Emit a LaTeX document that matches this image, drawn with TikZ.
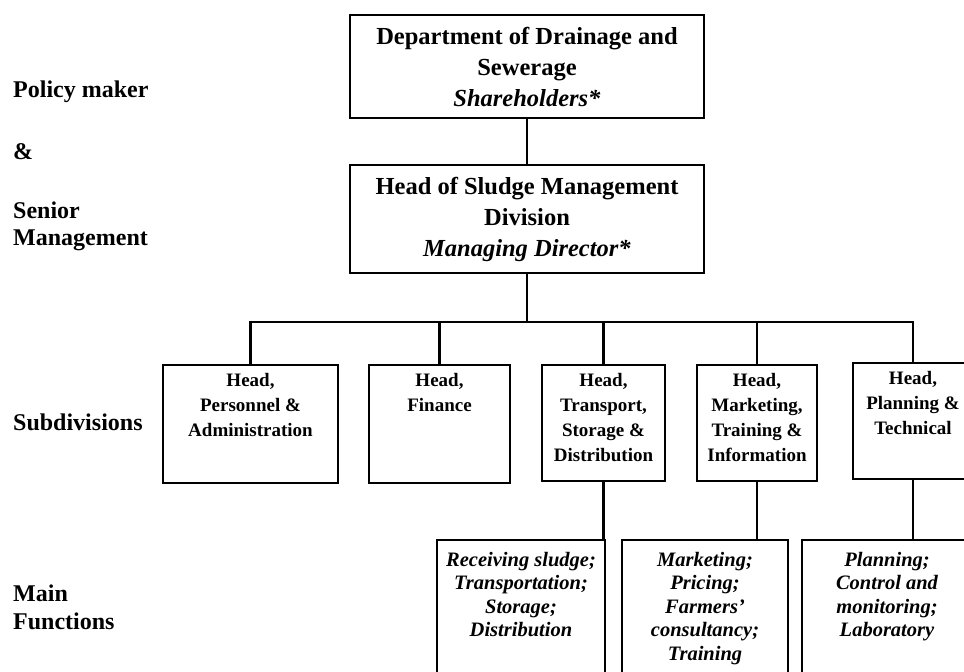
\documentclass[tikz,border=0pt]{standalone}
\usepackage{fontspec}
\setmainfont{Liberation Serif}
\begin{document}
\begin{tikzpicture}[x=1pt,y=-1pt,
  box/.style={draw=black,line width=2.2pt,rectangle,inner sep=0pt},
  link/.style={draw=black,line width=2.4pt},
  toptext/.style={align=center,font=\fontsize{24.5}{31}\selectfont\bfseries},
  subtext/.style={align=center,anchor=north,inner sep=0pt,font=\fontsize{19}{25}\selectfont\bfseries},
  funtext/.style={align=center,anchor=north,inner sep=0pt,font=\fontsize{20.5}{23.5}\selectfont\bfseries\itshape},
  lefttext/.style={align=left,anchor=west,inner sep=0pt,font=\fontsize{24}{27.5}\selectfont\bfseries}]
\clip (0,0) rectangle (964,672);
\fill[white] (0,0) rectangle (964,672);
% top level boxes
\node[box,minimum width=354pt,minimum height=103pt] (top) at (527,66.5) {};
\node[toptext] (toptx) at (top.center) {Department of Drainage and\\Sewerage\\\textit{Shareholders*}};
\node[box,minimum width=354pt,minimum height=108pt] (mid) at (527,219) {};
\node[toptext] (midtx) at (mid.center) {Head of Sludge Management\\Division\\\textit{Managing Director*}};
% subdivisions
\node[box,minimum width=175pt,minimum height=118pt] (s1) at (250.5,424) {};
\node[box,minimum width=141pt,minimum height=118pt] (s2) at (439.5,424) {};
\node[box,minimum width=123pt,minimum height=116pt] (s3) at (603.5,423) {};
\node[box,minimum width=120pt,minimum height=116pt] (s4) at (757,423) {};
\node[box,minimum width=120pt,minimum height=116pt] (s5) at (913,421) {};
\node[subtext] (s1t) at ([yshift=-9pt]s1.north) {Head,\\Personnel \&\\Administration};
\node[subtext] (s2t) at ([yshift=-9pt]s2.north) {Head,\\Finance};
\node[subtext] (s3t) at ([yshift=-9pt]s3.north) {Head,\\Transport,\\Storage \&\\Distribution};
\node[subtext] (s4t) at ([yshift=-9pt]s4.north) {Head,\\Marketing,\\Training \&\\Information};
\node[subtext] (s5t) at ([yshift=-9pt]s5.north) {Head,\\Planning \&\\Technical};
% main functions
\node[box,minimum width=168pt,minimum height=170pt] (f1) at (521,625) {};
\node[box,minimum width=166pt,minimum height=170pt] (f2) at (705,625) {};
\node[box,minimum width=170pt,minimum height=170pt] (f3) at (887,625) {};
\node[funtext] (f1t) at ([yshift=-13pt]f1.north) {Receiving sludge;\\Transportation;\\Storage;\\Distribution};
\node[funtext] (f2t) at ([yshift=-13pt]f2.north) {Marketing;\\Pricing;\\Farmers'\\consultancy;\\Training};
\node[funtext] (f3t) at ([yshift=-13pt]f3.north) {Planning;\\Control and\\monitoring;\\Laboratory};
% connectors
\coordinate (bus) at (527,322);
\draw[link] (top.south) -- (mid.north);
\draw[link] (mid.south) -- (bus);
\draw[link] (s1.north) -- (s1.north |- bus) -- (s5.north |- bus) -- (s5.north);
\draw[link] (s2.north) -- (s2.north |- bus);
\draw[link] (s3.north) -- (s3.north |- bus);
\draw[link] (s4.north) -- (s4.north |- bus);
\draw[link] (s3.south) -- (s3.south |- f1.north);
\draw[link] (s4.south) -- (s4.south |- f2.north);
\draw[link] (s5.south) -- (s5.south |- f3.north);
% left labels
\node[lefttext] (lpol) at (13,92) {Policy maker};
\node[lefttext] (lamp) at (13,152) {\&};
\node[lefttext] (lsen) at (13,226.5) {Senior\\Management};
\node[lefttext] (lsub) at (13,422) {Subdivisions};
\node[lefttext] (lmain) at (13,607.5) {Main\\Functions};
\end{tikzpicture}
\end{document}
